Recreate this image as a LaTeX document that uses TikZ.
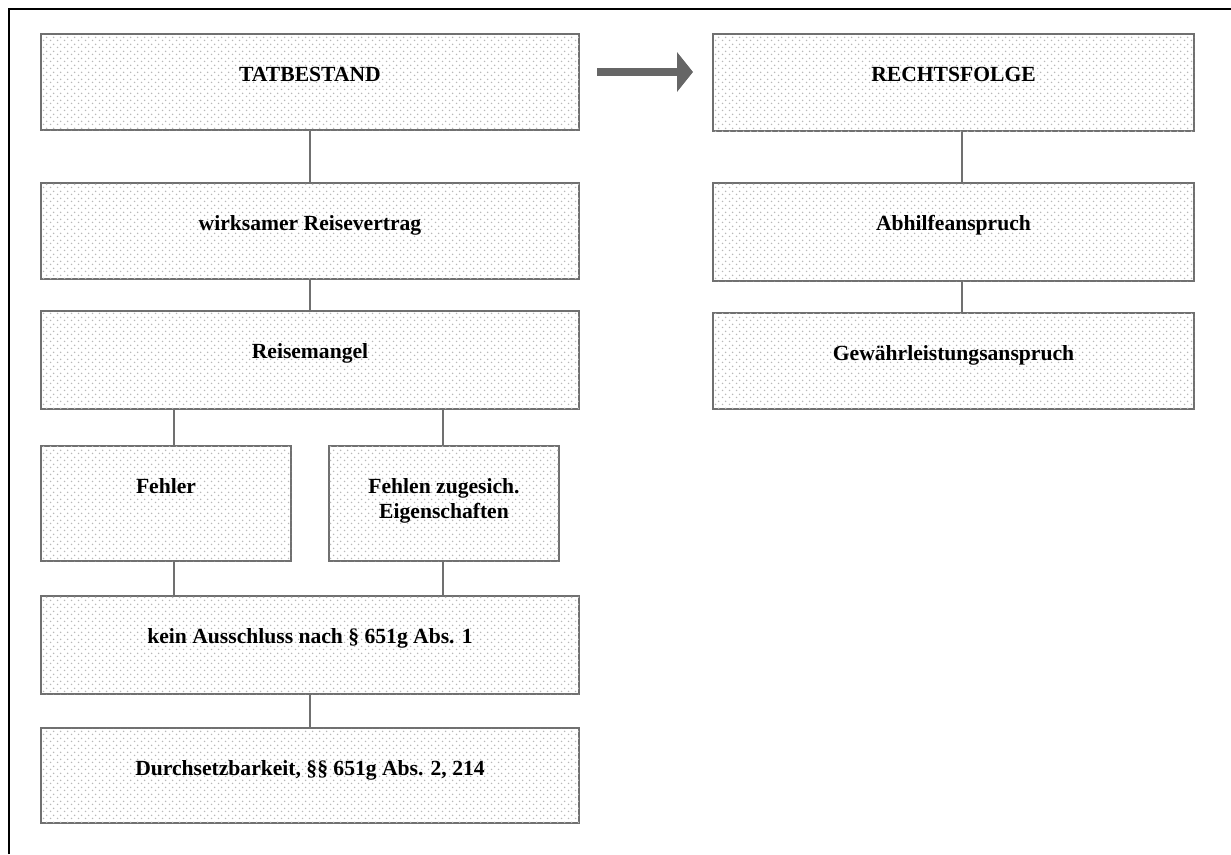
\documentclass[tikz,border=0pt]{standalone}
\usepackage{fontspec}
\setmainfont{Liberation Serif}
\usetikzlibrary{patterns.meta,arrows.meta}

\definecolor{edgegray}{HTML}{707070}
\definecolor{arrowgray}{HTML}{666666}
\definecolor{dotgray}{HTML}{B8B8B8}

% staggered fine dot screen used as box fill
\tikzdeclarepattern{
  name=dotscreen,
  type=uncolored,
  bounding box={(0,0) and (7pt,7pt)},
  tile size={(7pt,7pt)},
  code={
    \fill (1.75pt,1.75pt) circle (0.9pt);
    \fill (5.25pt,5.25pt) circle (0.9pt);
  }
}

\tikzset{
  box/.style={draw=edgegray, line width=2pt, fill=white,
    postaction={pattern={dotscreen}, pattern color=dotgray},
    inner sep=0pt, anchor=north west},
  lbl/.style={font=\fontsize{21.6}{25}\selectfont\bfseries, inner sep=0pt, align=center},
  link/.style={draw=edgegray, line width=2pt},
}

\begin{document}
\begin{tikzpicture}[x=1pt, y=-1pt]
\useasboundingbox (0,0) rectangle (1231,854);

% outer frame (top and left rules)
\draw[black, line width=2.2pt] (9,854) -- (9,9) -- (1231,9);

% left column
\node[box, minimum width=538pt, minimum height=96pt] (tat) at (40,33) {};
\node[box, minimum width=538pt, minimum height=96pt] (wirk) at (40,182) {};
\node[box, minimum width=538pt, minimum height=98pt] (reise) at (40,310) {};
\node[box, minimum width=250pt, minimum height=115pt] (fehler) at (40,445) {};
\node[box, minimum width=230pt, minimum height=115pt] (fehlen) at (328,445) {};
\node[box, minimum width=538pt, minimum height=98pt] (kein) at (40,595) {};
\node[box, minimum width=538pt, minimum height=95pt] (durch) at (40,727) {};

% right column
\node[box, minimum width=481pt, minimum height=97pt] (rechts) at (712,33) {};
\node[box, minimum width=481pt, minimum height=98pt] (abhilfe) at (712,182) {};
\node[box, minimum width=481pt, minimum height=96pt] (gewaehr) at (712,312) {};

% labels
\node[lbl, anchor=base] (tatT) at ([yshift=-48pt]tat.north) {TATBESTAND};
\node[lbl, anchor=base] (wirkT) at ([yshift=-48pt]wirk.north) {wirksamer Reisevertrag};
\node[lbl, anchor=base] (reiseT) at ([yshift=-48pt]reise.north) {Reisemangel};
\node[lbl, anchor=base] (fehlerT) at ([yshift=-48pt]fehler.north) {Fehler};
\node[lbl, anchor=center] (fehlenT) at ([yshift=-56pt]fehlen.north) {Fehlen zugesich.\\Eigenschaften};
\node[lbl, anchor=base] (keinT) at ([yshift=-48pt]kein.north) {kein Ausschluss nach § 651g Abs. 1};
\node[lbl, anchor=base] (durchT) at ([yshift=-48pt]durch.north) {Durchsetzbarkeit, §§ 651g Abs. 2, 214};
\node[lbl, anchor=base] (rechtsT) at ([yshift=-48pt]rechts.north) {RECHTSFOLGE};
\node[lbl, anchor=base] (abhilfeT) at ([yshift=-48pt]abhilfe.north) {Abhilfeanspruch};
\node[lbl, anchor=base] (gewaehrT) at ([yshift=-48pt]gewaehr.north) {Gewährleistungsanspruch};

% connectors
\coordinate (colA) at (174,0);
\coordinate (colB) at (443,0);
\coordinate (colR) at (962,0);
\draw[link] (tat.south) -- (wirk.north);
\draw[link] (wirk.south) -- (reise.north);
\draw[link] (colA |- reise.south) -- (colA |- fehler.north);
\draw[link] (colB |- reise.south) -- (colB |- fehlen.north);
\draw[link] (colA |- fehler.south) -- (colA |- kein.north);
\draw[link] (colB |- fehlen.south) -- (colB |- kein.north);
\draw[link] (kein.south) -- (durch.north);
\draw[link] (colR |- rechts.south) -- (colR |- abhilfe.north);
\draw[link] (colR |- abhilfe.south) -- (colR |- gewaehr.north);

% block arrow from Tatbestand to Rechtsfolge
\coordinate (arrS) at (597,72);
\coordinate (arrE) at (693,72);
\draw[arrowgray, line width=8pt, -{Triangle[length=16pt, width=39pt]}] (arrS) -- (arrE);
\end{tikzpicture}
\end{document}
